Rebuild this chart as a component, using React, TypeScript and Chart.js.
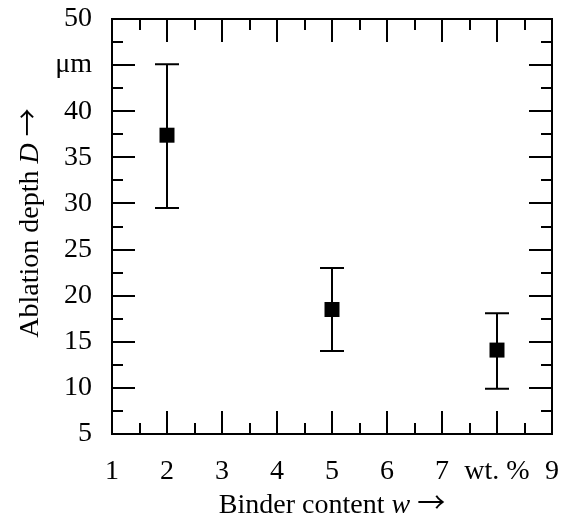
import React, { useEffect, useRef } from 'react';
import { Chart, registerables } from 'chart.js';

Chart.register(...registerables);

const binderContent = [2, 5, 8];
const ablationDepth = [37.4, 18.5, 14.1];
const errorLow = [29.5, 14.0, 9.9];
const errorHigh = [45.1, 23.0, 18.1];

const xTickValues = [1, 2, 3, 4, 5, 6, 7, 8, 9];
const xTickLabels = ['1', '2', '3', '4', '5', '6', '7', 'wt. %', '9'];
const yTickValues = [5, 10, 15, 20, 25, 30, 35, 40, 45, 50];
const yTickLabels = ['5', '10', '15', '20', '25', '30', '35', '40', 'μm', '50'];

const FONT = "'Liberation Serif', 'Times New Roman', serif";
const ARROW_FONT = "'Noto Sans CJK JP', 'DejaVu Sans', sans-serif";
const FONT_SIZE = 28;

const framePlugin = {
  id: 'frameTicks',
  afterDatasetsDraw(chart: any) {
    const { ctx, chartArea, scales } = chart;
    const { left, right, top, bottom } = chartArea;
    const xs = scales.x;
    const ys = scales.y;
    ctx.save();
    ctx.strokeStyle = '#000';
    ctx.lineWidth = 2;
    ctx.lineCap = 'butt';
    ctx.strokeRect(left, top, right - left, bottom - top);
    const major = 23;
    const minor = 11;
    ctx.beginPath();
    for (let v = xs.min; v <= xs.max + 1e-9; v += 0.5) {
      const p = Math.round(xs.getPixelForValue(v));
      const len = Math.abs(v - Math.round(v)) < 1e-9 ? major : minor;
      ctx.moveTo(p, bottom);
      ctx.lineTo(p, bottom - len);
      ctx.moveTo(p, top);
      ctx.lineTo(p, top + len);
    }
    for (let v = ys.min; v <= ys.max + 1e-9; v += 2.5) {
      const p = Math.round(ys.getPixelForValue(v));
      const len = Math.abs(v / 5 - Math.round(v / 5)) < 1e-9 ? major : minor;
      ctx.moveTo(left, p);
      ctx.lineTo(left + len, p);
      ctx.moveTo(right, p);
      ctx.lineTo(right - len, p);
    }
    ctx.stroke();
    ctx.restore();
  },
};

const errorBarPlugin = {
  id: 'errorBars',
  beforeDatasetsDraw(chart: any) {
    const { ctx, scales } = chart;
    const xs = scales.x;
    const ys = scales.y;
    ctx.save();
    ctx.strokeStyle = '#000';
    ctx.lineWidth = 2;
    ctx.beginPath();
    const cap = 12;
    binderContent.forEach((x, i) => {
      const px = Math.round(xs.getPixelForValue(x));
      const yl = ys.getPixelForValue(errorLow[i]);
      const yh = ys.getPixelForValue(errorHigh[i]);
      ctx.moveTo(px, yl);
      ctx.lineTo(px, yh);
      ctx.moveTo(px - cap, yl);
      ctx.lineTo(px + cap, yl);
      ctx.moveTo(px - cap, yh);
      ctx.lineTo(px + cap, yh);
    });
    ctx.stroke();
    ctx.restore();
  },
};

const titlePlugin = {
  id: 'axisTitles',
  afterDraw(chart: any) {
    const { ctx, chartArea } = chart;
    const normal = `${FONT_SIZE}px ${FONT}`;
    const italic = `italic ${FONT_SIZE}px ${FONT}`;
    const arrow = `${FONT_SIZE}px ${ARROW_FONT}`;
    const drawParts = (parts: [string, string][], cx: number, cy: number, rot: number) => {
      ctx.save();
      ctx.translate(cx, cy);
      ctx.rotate(rot);
      ctx.fillStyle = '#000';
      ctx.textBaseline = 'alphabetic';
      ctx.textAlign = 'left';
      let total = 0;
      parts.forEach(([t, f]) => {
        ctx.font = f;
        total += ctx.measureText(t).width;
      });
      let x = -total / 2;
      parts.forEach(([t, f]) => {
        ctx.font = f;
        ctx.fillText(t, x, 0);
        x += ctx.measureText(t).width;
      });
      ctx.restore();
    };
    const cx = (chartArea.left + chartArea.right) / 2;
    drawParts(
      [
        ['Binder content ', normal],
        ['w', italic],
        [' ', normal],
        ['→', arrow],
      ],
      cx,
      513,
      0
    );
    drawParts(
      [
        ['Ablation depth ', normal],
        ['D', italic],
        [' ', normal],
        ['→', arrow],
      ],
      38,
      223,
      -Math.PI / 2
    );
  },
};

export default function App() {
  const ref = useRef<HTMLCanvasElement | null>(null);
  useEffect(() => {
    if (!ref.current) return;
    const chart = new Chart(ref.current, {
      type: 'scatter',
      data: {
        datasets: [
          {
            data: binderContent.map((x, i) => ({ x, y: ablationDepth[i] })),
            pointStyle: 'rect',
            pointRadius: 10.6,
            pointHoverRadius: 10.6,
            backgroundColor: '#000',
            borderColor: '#000',
            borderWidth: 0,
          },
        ],
      },
      options: {
        animation: false,
        responsive: false,
        events: [],
        layout: { padding: { top: 19, right: 17, left: 0, bottom: 0 } },
        plugins: { legend: { display: false }, tooltip: { enabled: false } },
        scales: {
          x: {
            type: 'linear',
            min: 1,
            max: 9,
            afterBuildTicks: (s: any) => {
              s.ticks = xTickValues.map((v) => ({ value: v }));
            },
            afterFit: (s: any) => {
              s.height = 86;
              s.paddingLeft = 0;
              s.paddingRight = 0;
              s.paddingTop = 0;
              s.paddingBottom = 0;
            },
            ticks: {
              autoSkip: false,
              maxRotation: 0,
              color: '#000',
              padding: 21,
              font: { family: FONT, size: FONT_SIZE },
              callback: (v: any) => {
                const i = xTickValues.indexOf(Number(v));
                return i >= 0 ? xTickLabels[i] : '';
              },
            },
            grid: { display: false, drawTicks: false },
            border: { display: false },
          },
          y: {
            type: 'linear',
            min: 5,
            max: 50,
            afterBuildTicks: (s: any) => {
              s.ticks = yTickValues.map((v) => ({ value: v }));
            },
            afterFit: (s: any) => {
              s.width = 112;
              s.paddingLeft = 0;
              s.paddingRight = 0;
              s.paddingTop = 0;
              s.paddingBottom = 0;
            },
            ticks: {
              autoSkip: false,
              color: '#000',
              padding: 20,
              font: { family: FONT, size: FONT_SIZE },
              callback: (v: any) => {
                const i = yTickValues.indexOf(Number(v));
                return i >= 0 ? yTickLabels[i] : '';
              },
            },
            grid: { display: false, drawTicks: false },
            border: { display: false },
          },
        },
      },
      plugins: [errorBarPlugin, framePlugin, titlePlugin],
    });
    return () => chart.destroy();
  }, []);
  return (
    <div style={{ position: 'fixed', left: 0, top: 0, width: 569, height: 520, background: '#fff' }}>
      <canvas ref={ref} width={569} height={520} style={{ display: 'block' }} />
    </div>
  );
}
